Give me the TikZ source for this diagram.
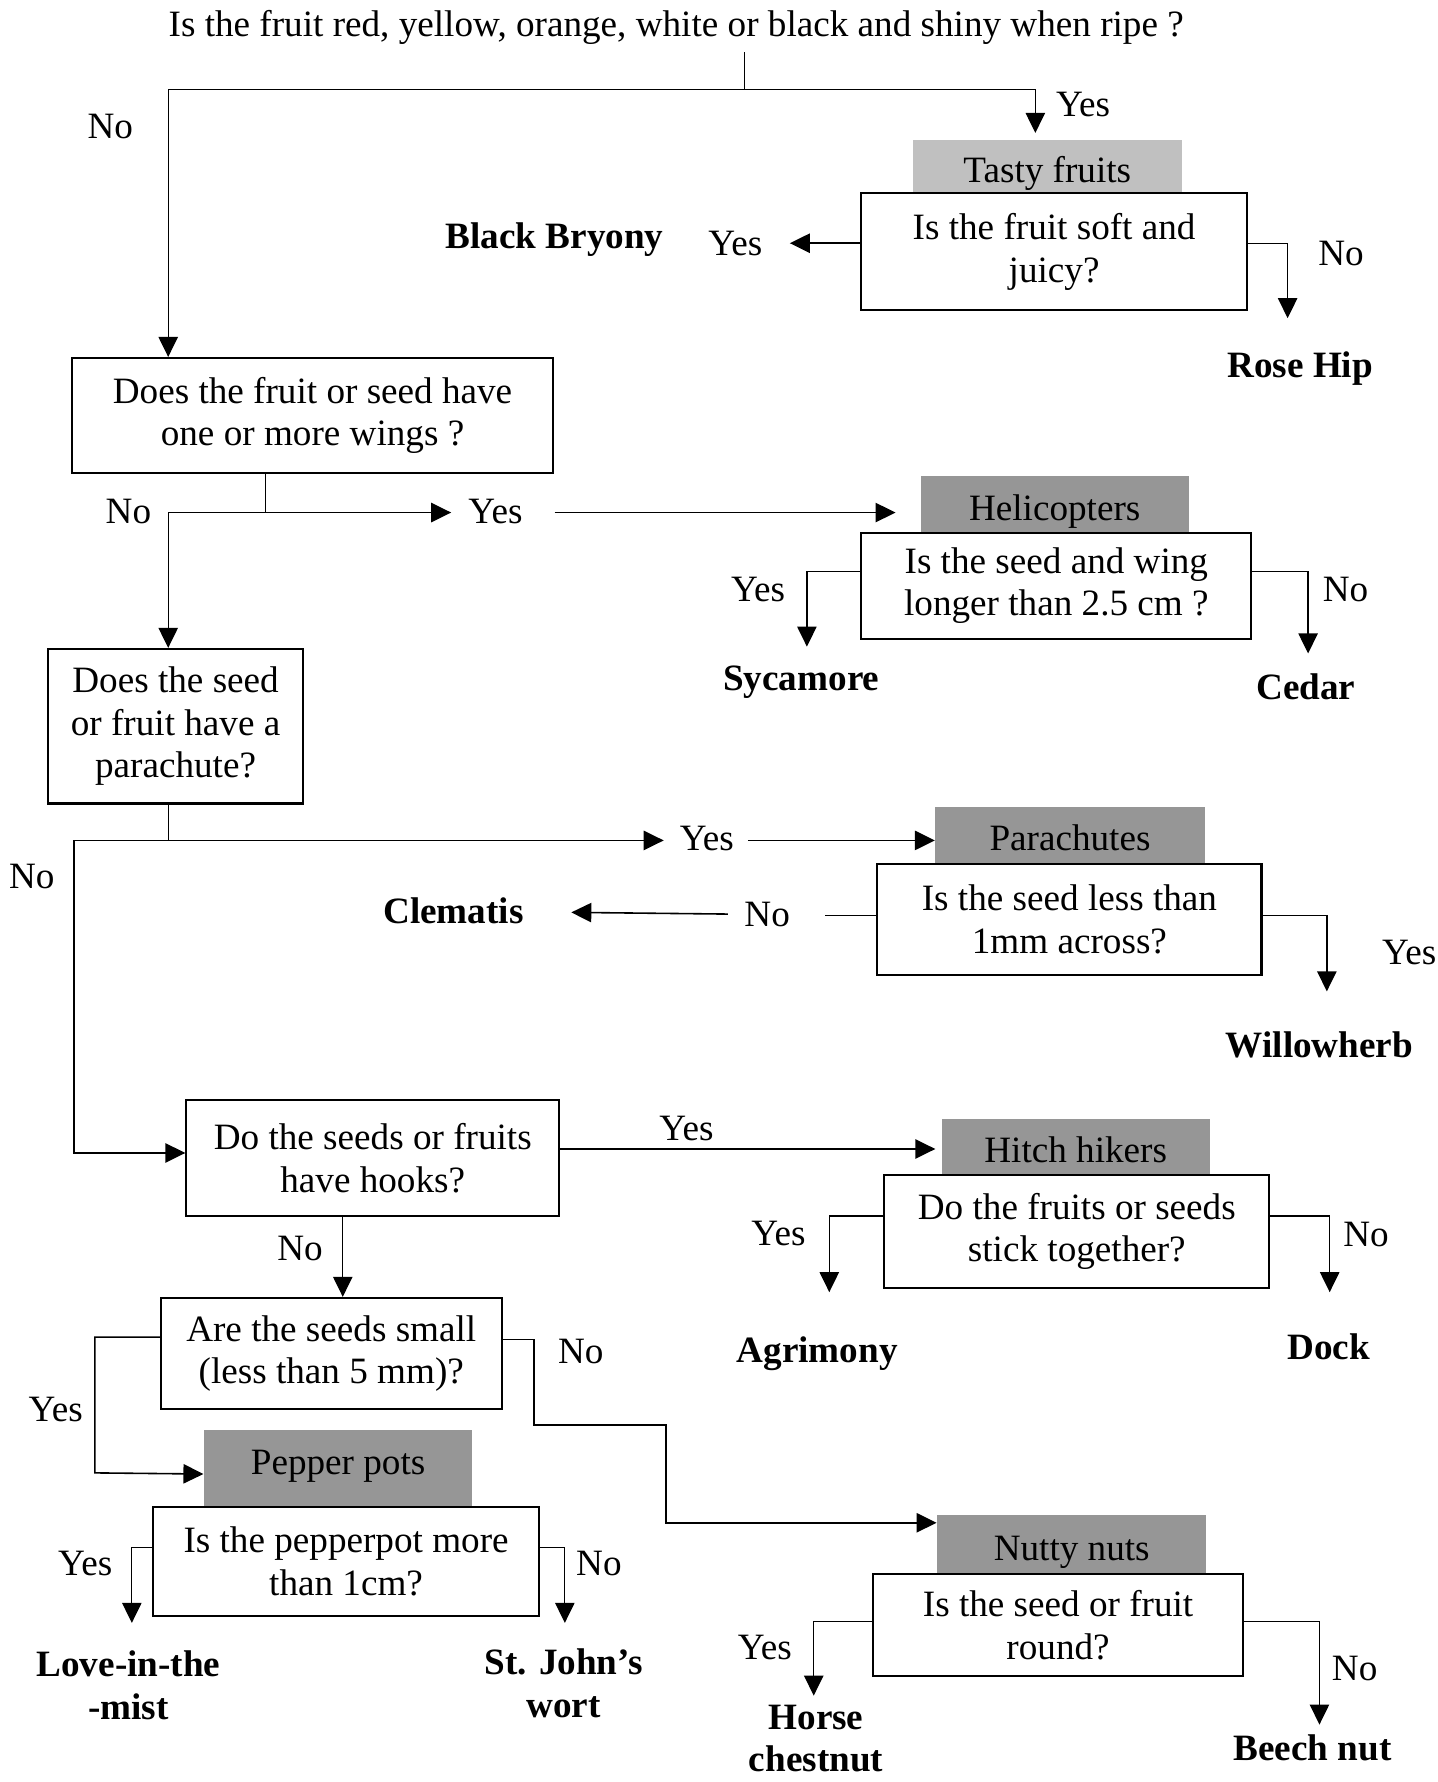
\documentclass[tikz,border=0pt]{standalone}
\usepackage{fontspec}
\setmainfont{Liberation Serif}
\usetikzlibrary{arrows.meta}

\definecolor{headgray}{HTML}{969696}
\definecolor{lightgray}{HTML}{C0C0C0}

\tikzset{
  arr/.style={-{Triangle[length=8.8pt,width=8.5pt]}},
  conn/.style={line width=0.55pt},
  qbox/.style={draw, line width=0.9pt, align=center, inner sep=0pt},
  head/.style={fill=headgray, inner sep=0pt, text height=17.3pt, text depth=3.6pt},
  leaf/.style={font=\fontsize{16.35}{18.65}\selectfont\bfseries, align=center},
  lab/.style={inner sep=0pt}
}

\begin{document}
\begin{tikzpicture}[x=0.5pt, y=-0.5pt,
  every node/.style={font=\fontsize{16.35}{18.65}\selectfont}]
\useasboundingbox (0,0) rectangle (1265,1568);

% questions and keys
\node (q0) at (595,24) {Is the fruit red, yellow, orange, white or black and shiny when ripe ?};

\node[head, fill=lightgray, minimum width=118.5pt, minimum height=23.5pt] (h1) at (921.5,146.5) {Tasty fruits};
\node[qbox, minimum width=170pt, minimum height=51.5pt] (b1) at (927.5,221.5) {Is the fruit soft and\\juicy?};

\node[qbox, minimum width=212pt, minimum height=50.5pt] (q1) at (275,365.5) {Does the fruit or seed have\\one or more wings ?};

\node[head, minimum width=118pt, minimum height=25pt] (h2) at (928,444) {Helicopters};
\node[qbox, minimum width=171.5pt, minimum height=46.5pt] (b2) at (929.5,515.5) {Is the seed and wing\\longer than 2.5 cm ?};

\node[qbox, minimum width=112.5pt, minimum height=68pt] (q2) at (154.5,639) {Does the seed\\or fruit have a\\parachute?};

\node[head, minimum width=118.5pt, minimum height=24.5pt] (h3) at (941.5,734.5) {Parachutes};
\node[qbox, minimum width=169pt, minimum height=49pt] (b3) at (941,809) {Is the seed less than\\1mm across?};

\node[qbox, minimum width=164pt, minimum height=51pt] (q3) at (328,1019) {Do the seeds or fruits\\have hooks?};

\node[head, minimum width=118pt, minimum height=24.5pt] (h4) at (946.5,1009.5) {Hitch hikers};
\node[qbox, minimum width=169.5pt, minimum height=49.5pt] (b4) at (947.5,1083.5) {Do the fruits or seeds\\stick together?};

\node[qbox, minimum width=150pt, minimum height=49pt] (q4) at (291.5,1191) {Are the seeds small\\(less than 5 mm)?};

\node[head, minimum width=118pt, minimum height=34pt, text height=9.3pt] (h5) at (297.5,1292) {Pepper pots};
\node[qbox, minimum width=169.5pt, minimum height=48pt] (b5) at (304.5,1374) {Is the pepperpot more\\than 1cm?};

\node[head, minimum width=118.5pt, minimum height=26pt] (h6) at (943,1359) {Nutty nuts};
\node[qbox, minimum width=162.5pt, minimum height=45pt] (b6) at (931,1430) {Is the seed or fruit\\round?};

% answers
\node[leaf] (bryony) at (488,211) {Black Bryony};
\node[leaf] (rosehip) at (1144,324) {Rose Hip};
\node[leaf] (sycamore) at (705,600) {Sycamore};
\node[leaf] (cedar) at (1149,604) {Cedar};
\node[leaf] (clematis) at (399,801) {Clematis};
\node[leaf] (willow) at (1161,919) {Willowherb};
\node[leaf] (agrimony) at (719,1191) {Agrimony};
\node[leaf] (dock) at (1169,1185) {Dock};
\node[leaf] (love) at (113,1483) {Love-in-the\\-mist};
\node[leaf] (john) at (496,1481) {St. John’s\\wort};
\node[leaf] (horse) at (718,1530) {Horse\\chestnut};
\node[leaf] (beech) at (1155,1538) {Beech nut};

% yes / no labels
\node[lab] (l0n) at (97,111) {No};
\node[lab] (l0y) at (953,92) {Yes};
\node[lab] (l1y) at (647,214) {Yes};
\node[lab] (l1n) at (1180,223) {No};
\node[lab] (l2n) at (113,450) {No};
\node[lab] (l2y) at (436,450) {Yes};
\node[lab] (l3y) at (667,519) {Yes};
\node[lab] (l3n) at (1184,519) {No};
\node[lab] (l4n) at (28,771) {No};
\node[lab] (l4y) at (622,738) {Yes};
\node[lab] (l5n) at (675,805) {No};
\node[lab] (l5y) at (1240,838) {Yes};
\node[lab] (l6y) at (604,993) {Yes};
\node[lab] (l7y) at (685,1085) {Yes};
\node[lab] (l7n) at (1202,1086) {No};
\node[lab] (l6n) at (264,1099) {No};
\node[lab] (l8n) at (511,1189) {No};
\node[lab] (l8y) at (49,1240) {Yes};
\node[lab] (l9y) at (75,1376) {Yes};
\node[lab] (l9n) at (527,1376) {No};
\node[lab] (l10y) at (673,1450) {Yes};
\node[lab] (l10n) at (1192,1468) {No};

% bends and free ends
\coordinate (k0) at (655,79);
\coordinate (k0n) at (148,79);
\coordinate (k0y) at (911,117);
\coordinate (t1y) at (695,214);
\coordinate (t1n) at (1133,280);
\coordinate (k1) at (233.5,451);
\coordinate (k1n) at (148,451);
\coordinate (t1a) at (397,451);
\coordinate (s1b) at (488,451);
\coordinate (t1b) at (788,451);
\coordinate (k2y) at (710,503);
\coordinate (t2y) at (710,569);
\coordinate (t2n) at (1151,575);
\coordinate (k3) at (148,739.5);
\coordinate (k3n) at (65,739.5);
\coordinate (t3a) at (584,739.5);
\coordinate (s3b) at (658,739.5);
\coordinate (k3b) at (65,1014.5);
\coordinate (k4n) at (725.6,805.5);
\coordinate (s4n) at (640.5,804.3);
\coordinate (t4n) at (502.7,802.8);
\coordinate (t4y) at (1167.5,872.3);
\coordinate (k5) at (0,1011);
\coordinate (t5y) at (823,1011);
\coordinate (k6y) at (729.7,1070);
\coordinate (t6y) at (729.7,1137);
\coordinate (t6n) at (1170,1137);
\coordinate (k6) at (301.6,0);
\coordinate (k7y) at (83.5,1176.6);
\coordinate (k7b) at (83.5,1296);
\coordinate (t7y) at (179,1297);
\coordinate (k8n) at (470,1178.7);
\coordinate (k8b) at (470,1253.9);
\coordinate (k8c) at (586,1253.9);
\coordinate (k8d) at (586,1339.9);
\coordinate (k9) at (116,1361.4);
\coordinate (t9y) at (116,1428);
\coordinate (t9n) at (497,1428);
\coordinate (k10) at (716,1426.5);
\coordinate (t10y) at (716,1492);
\coordinate (t10n) at (1161,1517.5);

% connectors
\draw[conn] (q0.south -| k0) -- (k0);
\draw[conn, arr] (k0) -- (k0n) -- (k0n |- q1.north);
\draw[conn, arr] (k0) -| (k0y);
\draw[conn, line width=0.7pt, arr] (b1.west |- t1y) -- (t1y);
\draw[conn, arr] (b1.east |- t1y) -| (t1n);

\draw[conn] (q1.south -| k1) -- (k1);
\draw[conn, line width=0.7pt, arr] (k1n) -- (t1a);
\draw[conn, arr] (k1n) -- (k1n |- q2.north);
\draw[conn, line width=0.7pt, arr] (s1b) -- (t1b);
\draw[conn, arr] (b2.west |- k2y) -- (k2y) -- (t2y);
\draw[conn, arr] (b2.east |- k2y) -| (t2n);

\draw[conn] (q2.south -| k3) -- (k3);
\draw[conn, line width=0.7pt, arr] (k3n) -- (t3a);
\draw[conn, line width=0.7pt, arr] (s3b) -- (s3b -| h3.west);
\draw[conn, line width=0.7pt] (b3.west |- k4n) -- (k4n);
\draw[conn, line width=0.7pt, arr] (s4n) -- (t4n);
\draw[conn, line width=0.7pt, arr] (b3.east |- k4n) -| (t4y);
\draw[conn, line width=0.7pt, arr] (k3n) -- (k3b) -- (k3b -| q3.west);

\draw[conn, line width=0.7pt, arr] (q3.east |- k5) -- (t5y);
\draw[conn, arr] (b4.west |- k6y) -- (k6y) -- (t6y);
\draw[conn, arr] (b4.east |- k6y) -| (t6n);
\draw[conn, arr] (q3.south -| k6) -- (k6 |- q4.north);

\draw[conn, line width=0.7pt, arr] (q4.west |- k7y) -- (k7y) -- (k7b) -- (t7y);
\draw[conn, line width=0.7pt, arr] (q4.east |- k8n) -- (k8n) -- (k8b) -- (k8c) -- (k8d) -- (k8d -| h6.west);
\draw[conn, arr] (b5.west |- k9) -| (t9y);
\draw[conn, arr] (b5.east |- k9) -| (t9n);
\draw[conn, arr] (b6.west |- k10) -- (k10) -- (t10y);
\draw[conn, arr] (b6.east |- k10) -| (t10n);
\end{tikzpicture}
\end{document}
